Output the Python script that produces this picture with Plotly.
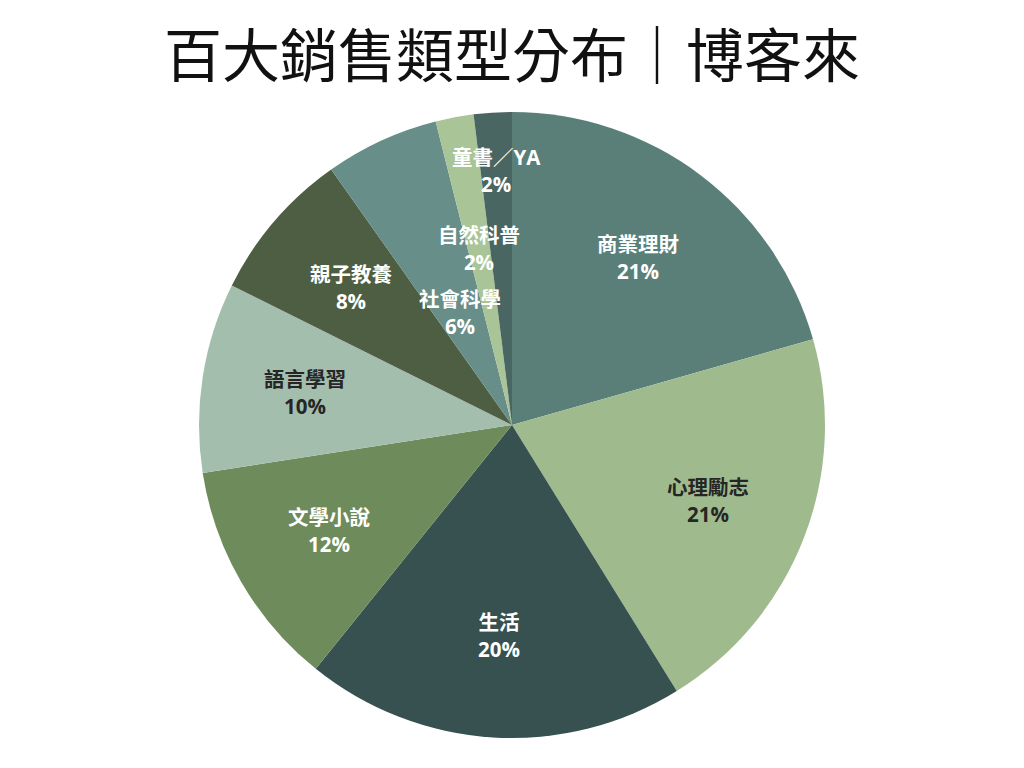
import math
import plotly.graph_objects as go

categories = ["商業理財", "心理勵志", "生活", "文學小說", "語言學習", "親子教養", "社會科學", "自然科普", "童書／YA"]
counts = [21, 21, 20, 12, 10, 8, 6, 2, 2]
colors = ["#5a7f78", "#9fbb8e", "#375150", "#6e8b5c", "#a3bead", "#4e5e42", "#678e88", "#a9c496", "#4a6663"]
text_colors = ["#ffffff", "#262626", "#ffffff", "#ffffff", "#262626", "#ffffff", "#ffffff", "#ffffff", "#ffffff"]
label_radius = [0.67, 0.67, 0.675, 0.675, 0.67, 0.675, 0.395, 0.575, 0.815]
title_text = "百大銷售類型分布｜博客來"

W, H = 1024, 768
ML, MR, MT, MB = 72, 88, 104, 38
pw, ph = W - ML - MR, H - MT - MB
R = min(pw, ph) / 2.0

fig = go.Figure(go.Pie(
    labels=categories,
    values=counts,
    sort=False,
    direction="clockwise",
    rotation=0,
    marker=dict(colors=colors, line=dict(width=0)),
    textinfo="none",
    showlegend=False,
    hoverinfo="label+percent",
))

total = sum(counts)
annotations = []
cum = 0
font_family = "Open Sans, Noto Sans CJK TC"
for cat, c, tc, fr in zip(categories, counts, text_colors, label_radius):
    mid = (cum + c / 2.0) / total * 2 * math.pi
    cum += c
    xp = 0.5 + fr * R * math.sin(mid) / pw
    yp = 0.5 + fr * R * math.cos(mid) / ph
    pct = f"{round(100 * c / total)}%"
    annotations.append(dict(x=xp, y=yp, xref="paper", yref="paper", text=f"{cat}<br>{pct}",
                            showarrow=False, xanchor="center", yanchor="middle", align="center",
                            font=dict(family=font_family, size=20.5, color=tc, weight="bold")))

# chart title
annotations.append(dict(x=0.5, y=1 + (MT - 44) / ph, xref="paper", yref="paper", text=title_text,
                        showarrow=False, xanchor="center", yanchor="middle",
                        font=dict(family="Noto Sans CJK TC", size=58, color="#111111")))

fig.update_layout(
    width=W, height=H,
    margin=dict(l=ML, r=MR, t=MT, b=MB),
    paper_bgcolor="white",
    annotations=annotations,
)

fig.write_html("out.html")
